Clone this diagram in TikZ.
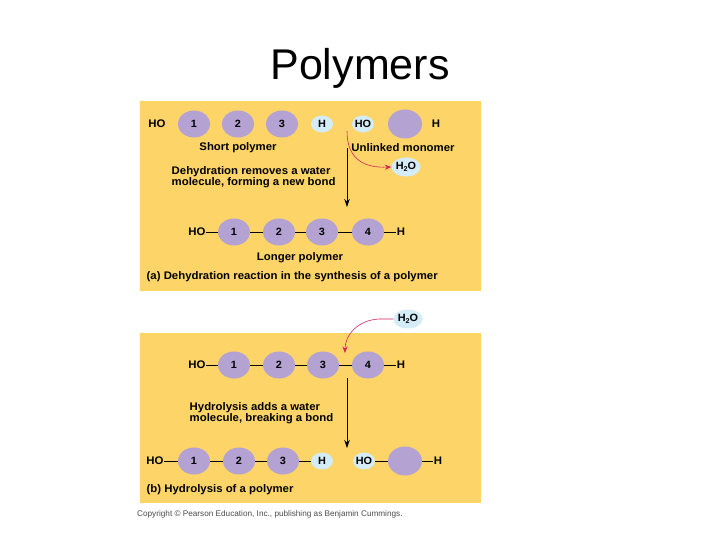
\documentclass[tikz,border=0pt]{standalone}
\usepackage{fontspec}
\setmainfont{Liberation Sans}
\newfontfamily\lblfont[FakeStretch=1.035]{Liberation Sans}
\usetikzlibrary{shapes.geometric,arrows.meta}
\definecolor{panel}{RGB}{252,212,104}
\definecolor{mono}{RGB}{180,162,210}
\definecolor{water}{RGB}{212,236,247}
\definecolor{redarr}{RGB}{214,36,90}
\tikzset{
  lbl/.style={font=\lblfont\fontsize{11}{11.5}\selectfont\bfseries, inner sep=0.5pt},
  mon/.style={ellipse, fill=mono, minimum width=32pt, minimum height=27pt, inner sep=0pt, font=\lblfont\fontsize{10.5}{11}\selectfont\bfseries},
  bigmon/.style={ellipse, fill=mono, minimum width=34pt, minimum height=29pt, inner sep=0pt},
  wat/.style={ellipse, fill=water, minimum width=22pt, minimum height=17pt, inner sep=-1pt, font=\lblfont\fontsize{10.5}{11}\selectfont\bfseries},
  bond/.style={black, line width=0.6pt},
  rarrow/.style={redarr, line width=0.6pt, -{Stealth[length=6.5pt,width=5pt]}},
  karrow/.style={black, line width=0.8pt, -{Stealth[length=8pt,width=5.5pt]}},
}
\newcommand{\water}{H\raisebox{-0.45ex}{\fontsize{7}{7}\selectfont 2}O}
\begin{document}
\begin{tikzpicture}[x=1pt,y=-1pt]
\useasboundingbox (0,0) rectangle (720,540);
\fill[white] (0,0) rectangle (720,540);
% title
\node[font=\fontsize{43}{46}\selectfont] (title) at (360,68) {Polymers};
% panels
\fill[panel] (140,101) rectangle (481,291);
\fill[panel] (140,333) rectangle (481,503);

% ---------- panel a, top row
\node[lbl] (aho) at (157,124) {HO};
\node[mon] (a1) at (194,124) {1};
\node[mon] (a2) at (238,124) {2};
\node[mon] (a3) at (282,124) {3};
\node[wat] (ah) at (322,124) {H};
\node[wat] (aho2) at (363,124) {HO};
\node[bigmon] (am) at (405,124) {};
\node[lbl] (ah2) at (436,124) {H};
\node[lbl] (short) at (238,148) {Short polymer};
\node[lbl] (unl) at (403,148) {Unlinked monomer};
\node[lbl, align=left, anchor=west] (dehy) at (171,177) {Dehydration removes a water\\molecule, forming a new bond};
\node[wat, minimum width=29pt, minimum height=19pt] (aw) at (406,167) {\water};
\coordinate (ar0) at (347,131);
\draw[rarrow] (ar0) .. controls (347,160) and (365,168) .. (aw.west);
\coordinate (av0) at (347,148);
\coordinate (av1) at (347,207);
\draw[karrow] (av0) -- (av1);

% ---------- panel a, longer polymer
\node[lbl] (bho) at (197,232) {HO};
\node[mon] (b1) at (234,232) {1};
\node[mon] (b2) at (279,232) {2};
\node[mon] (b3) at (322,232) {3};
\node[mon] (b4) at (368,232) {4};
\node[lbl] (bh) at (401,232) {H};
\draw[bond] (bho.east) -- (b1.west);
\draw[bond] (b1.east) -- (b2.west);
\draw[bond] (b2.east) -- (b3.west);
\draw[bond] (b3.east) -- (b4.west);
\draw[bond] (b4.east) -- (bh.west);
\node[lbl] (longer) at (300,258) {Longer polymer};
\node[lbl, anchor=west] (capa) at (146,277) {(a) Dehydration reaction in the synthesis of a polymer};

% ---------- panel b, top row
\node[wat, minimum width=29pt, minimum height=19pt] (bw) at (408,319) {\water};
\coordinate (br1) at (379,319);
\coordinate (br2) at (345,353);
\draw[rarrow] (bw.west) -- (br1) .. controls (358,320) and (345,335) .. (br2);
\node[lbl] (cho) at (197,365) {HO};
\node[mon] (c1) at (234,365) {1};
\node[mon] (c2) at (279,365) {2};
\node[mon] (c3) at (323,365) {3};
\node[mon] (c4) at (368,365) {4};
\node[lbl] (ch) at (401,365) {H};
\draw[bond] (cho.east) -- (c1.west);
\draw[bond] (c1.east) -- (c2.west);
\draw[bond] (c2.east) -- (c3.west);
\draw[bond] (c3.east) -- (c4.west);
\draw[bond] (c4.east) -- (ch.west);
\node[lbl, align=left, anchor=west] (hydro) at (189,413) {Hydrolysis adds a water\\molecule, breaking a bond};
\coordinate (bv0) at (347,378);
\coordinate (bv1) at (347,448);
\draw[karrow] (bv0) -- (bv1);

% ---------- panel b, bottom row
\node[lbl] (dho) at (155,461) {HO};
\node[mon] (d1) at (194,461) {1};
\node[mon] (d2) at (239,461) {2};
\node[mon] (d3) at (283,461) {3};
\node[wat] (dh) at (322,461) {H};
\node[wat] (dho2) at (364,461) {HO};
\node[bigmon] (dm) at (405,461) {};
\node[lbl] (dh2) at (438,461) {H};
\draw[bond] (dho.east) -- (d1.west);
\draw[bond] (d1.east) -- (d2.west);
\draw[bond] (d2.east) -- (d3.west);
\draw[bond] (d3.east) -- (dh.west);
\draw[bond] (dho2.east) -- (dm.west);
\draw[bond] (dm.east) -- (dh2.west);
\node[lbl, anchor=west] (capb) at (146,490) {(b) Hydrolysis of a polymer};

% copyright
\node[anchor=west, font=\fontsize{8.2}{9}\selectfont, text=black!70, inner sep=0pt] (copy) at (137,514) {Copyright © Pearson Education, Inc., publishing as Benjamin Cummings.};
\end{tikzpicture}
\end{document}
